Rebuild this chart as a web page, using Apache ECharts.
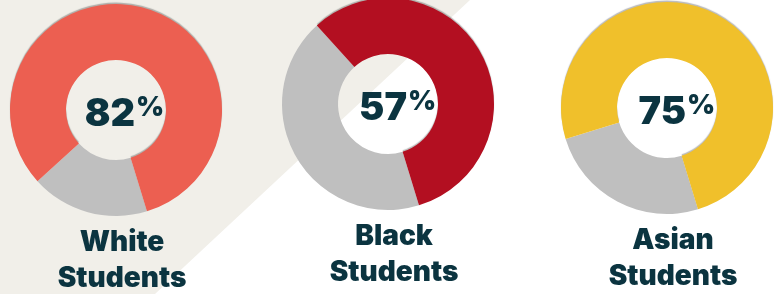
<!DOCTYPE html>
<html>
<head>
<meta charset="utf-8">
<title>Students donuts</title>
<script src="https://cdn.jsdelivr.net/npm/echarts/dist/echarts.min.js"></script>
<style>
html, body { margin: 0; padding: 0; background: #ffffff; }
#chart { width: 777px; height: 294px; }
</style>
</head>
<body>
<div id="chart"></div>
<script>
// data
var groups = ['White', 'Black', 'Asian'];
var subLabel = 'Students';
var shares = [82, 57, 75];
var groupColors = ['#ec5f51', '#b30f21', '#f0c02b'];
var restColor = '#bfbfbf';

// layout
var centers = [[116, 110], [388, 104], [667, 108]];
var radius = [50, 106];
var textColor = '#0b3440';
var bgColor = '#f1efe9';
var heavyFont = '"Inter", "Noto Sans", sans-serif';

var chart = echarts.init(document.getElementById('chart'), null, { renderer: 'canvas' });

var series = [];
var graphics = [
	// beige band behind the left charts
	{
		type: 'polygon',
		z: -10,
		silent: true,
		shape: { points: [[0, 0], [470, 0], [155, 294], [0, 294]] },
		style: { fill: bgColor }
	}
];

function heavyText(x, y, text, size, align, vAlign, extra) {
	var style = {
		text: text,
		fill: textColor,
		font: '900 ' + size + 'px ' + heavyFont,
		align: align,
		verticalAlign: vAlign
	};
	if (extra) {
		for (var k in extra) style[k] = extra[k];
	}
	return { type: 'text', z: 100, silent: true, x: x, y: y, style: style };
}

groups.forEach(function (g, i) {
	var p = shares[i];
	var c = centers[i];
	series.push({
		type: 'pie',
		name: g,
		center: c,
		radius: radius,
		startAngle: 287,
		clockwise: true,
		silent: true,
		animation: false,
		label: { show: false },
		labelLine: { show: false },
		emphasis: { disabled: true },
		data: [
			{ name: 'rest', value: 100 - p, itemStyle: { color: restColor } },
			{ name: g, value: p, itemStyle: {
				color: groupColors[i],
				shadowColor: 'rgba(0,0,0,0.28)',
				shadowBlur: 1,
				shadowOffsetY: -1.5
			} }
		]
	});
	// percentage in the hole
	graphics.push(heavyText(c[0] + 19, c[1] + 5, String(p), 38, 'right', 'middle'));
	graphics.push(heavyText(c[0] + 20, c[1] - 16, '%', 27, 'left', 'top'));
	// group name under the donut
	graphics.push(heavyText(c[0] + 6, c[1] + 115, g + '\n' + subLabel, 28, 'center', 'top', { lineHeight: 36 }));
});

chart.setOption({
	animation: false,
	graphic: graphics,
	series: series
});
</script>
</body>
</html>
